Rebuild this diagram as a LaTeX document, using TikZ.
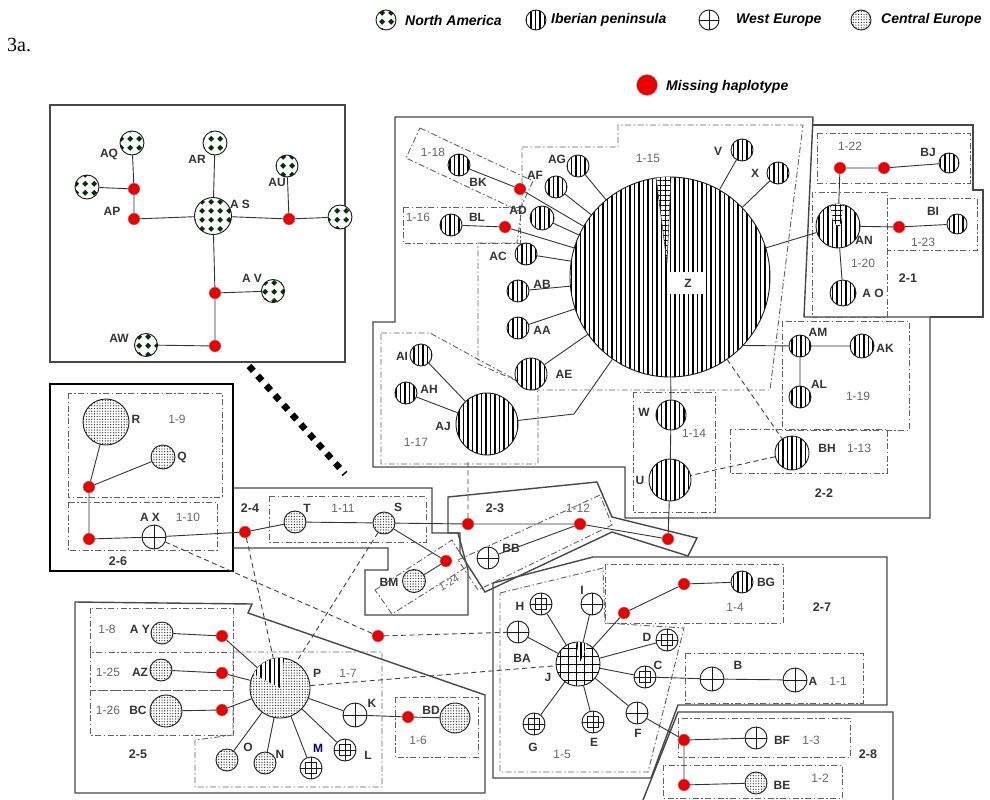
\documentclass[tikz,border=0pt]{standalone}
\usepackage{fontspec}
\setmainfont{Liberation Sans}
\newfontfamily\mytimes{Liberation Serif}
\usetikzlibrary{patterns,patterns.meta}
\pgfdeclarepatternformonly{nadiamonds}{\pgfpointorigin}{\pgfpoint{9pt}{9pt}}{\pgfpoint{9pt}{9pt}}{%
 \pgfpathmoveto{\pgfpoint{4.5pt}{1.3pt}}\pgfpathlineto{\pgfpoint{7.7pt}{4.5pt}}\pgfpathlineto{\pgfpoint{4.5pt}{7.7pt}}\pgfpathlineto{\pgfpoint{1.3pt}{4.5pt}}\pgfpathclose\pgfusepath{fill}}
\tikzset{
  con/.style={draw=black!80, line width=0.9pt},
  dcon/.style={draw=black!75, line width=0.9pt, dash pattern=on 5pt off 3.5pt},
  region/.style={draw=black!72, line width=1.4pt},
  grp/.style={draw=black!62, line width=0.9pt, dash pattern=on 6pt off 2.5pt on 1.5pt off 2.5pt},
  miss/.style={circle, fill=red!92!black, draw=black!35, line width=0.4pt, inner sep=0pt, minimum size=12pt},
  hap/.style={circle, draw=black!90, line width=0.9pt, inner sep=0pt, minimum size=#1, preaction={fill=white}},
  ib/.style={hap=#1, pattern={Lines[angle=90,distance=4.5pt,line width=1.8pt]}},
  ce/.style={hap=#1, pattern={Dots[radius=0.65pt,distance=2.7pt]}, pattern color=black!85},
  na/.style={hap=#1, pattern=nadiamonds, pattern color=black!80!green},
  wg/.style={hap=#1, pattern={Hatch[distance=8pt,line width=0.9pt]}},
  we/.style={hap=#1, path picture={\draw[black!90,line width=0.9pt] (path picture bounding box.north)--(path picture bounding box.south) (path picture bounding box.west)--(path picture bounding box.east);}},
  wesq/.style={hap=#1, path picture={\draw[black!90,line width=0.9pt] (path picture bounding box.north)--(path picture bounding box.south) (path picture bounding box.west)--(path picture bounding box.east); \draw[black!90,line width=0.9pt] ([shift={(-5.5pt,-5.5pt)}]path picture bounding box.center) rectangle ([shift={(5.5pt,5.5pt)}]path picture bounding box.center);}},
  lab/.style={font=\fontsize{12}{12}\selectfont\bfseries, text=black!80, inner sep=0pt},
  gl/.style={font=\fontsize{12}{12}\selectfont, text=black!60, inner sep=0pt},
  rl/.style={font=\fontsize{12.5}{12}\selectfont\bfseries, text=black!80, inner sep=0pt},
  legt/.style={font=\fontsize{14}{14}\selectfont\bfseries\itshape, inner sep=0pt, anchor=west}
}
\begin{document}
\begin{tikzpicture}[x=1pt,y=-1pt]
\useasboundingbox (0,0) rectangle (990,800);

% ---------- legend ----------
\node[na=20pt] (lgNA) at (386,20) {};
\node[legt] (lgNAt) at (405,20) {North America};
\node[ib=20pt] (lgIB) at (536,20) {};
\node[legt] (lgIBt) at (551,20) {Iberian peninsula};
\node[we=20pt] (lgWE) at (709,20) {};
\node[legt] (lgWEt) at (736,20) {West Europe};
\node[ce=20pt] (lgCE) at (861,20) {};
\node[legt] (lgCEt) at (881,20) {Central Europe};
\node[miss, minimum size=21pt] (lgMS) at (647,85) {};
\node[legt] (lgMSt) at (666,87) {Missing haplotype};
\node[inner sep=0pt, anchor=west, font=\mytimes\fontsize{20}{20}\selectfont] (title) at (7,45) {3a.};

% ---------- region outlines ----------
\draw[region] (50,105) rectangle (345,362);
\draw[draw=black, line width=2.6pt] (50,384) rectangle (233,571);
\draw[region] (233,488) -- (432,488) -- (432,533) -- (458,533) -- (468,570) -- (468,615) -- (365,615) -- (365,570) -- (388,570) -- (388,548) -- (233,548);
\draw[region] (448,497) -- (597,482) -- (612,517) -- (697,538) -- (688,556) -- (612,532) -- (485,592) -- (460,553) -- (460,533) -- (448,533) -- cycle;
\draw[region] (395,117) -- (813,117) -- (804,317) -- (930,317) -- (930,518) -- (625,518) -- (625,467) -- (373,467) -- (373,322) -- (395,322) -- cycle;
\draw[region] (812,125) -- (973,125) -- (973,190) -- (983,190) -- (983,317) -- (930,317);
\draw[region] (75,602) -- (252,604) -- (248,613) -- (485,695) -- (485,793) -- (75,793) -- cycle;
\draw[region] (493,583) -- (593,557) -- (887,557) -- (887,705) -- (678,705) -- (651,778) -- (493,778) -- cycle;
\draw[region] (643,800) -- (678,712) -- (893,712) -- (893,800);

% ---------- group boxes ----------
\draw[grp] (68,393) rectangle (222,497);
\draw[grp] (68,502) rectangle (217,550);
\draw[grp] (269,496) rectangle (426,542);
\draw[grp] (458,560) -- (600,495) -- (612,525) -- (478,590) -- cycle;
\draw[grp] (375,590) -- (452,540) -- (468,566) -- (392,614) -- cycle;
\draw[grp] (420,128) -- (533,181) -- (519,211) -- (406,158) -- cycle;
\draw[grp] (403,207) rectangle (520,243);
\draw[grp] (522,147) -- (618,147) -- (618,125) -- (803,125) -- (770,390) -- (538,390) -- (478,364) -- (478,243) -- (517,243) -- (522,207) -- cycle;
\draw[grp] (381,333) -- (430,333) -- (538,392) -- (538,464) -- (381,464) -- cycle;
\draw[grp] (633,392) rectangle (715,512);
\draw[grp] (730,429) rectangle (887,473);
\draw[grp] (782,321) rectangle (909,430);
\draw[grp] (817,133) rectangle (970,183);
\draw[grp] (812,192) rectangle (887,317);
\draw[grp] (887,198) rectangle (977,250);
\draw[grp] (90,608) rectangle (233,652);
\draw[grp] (90,652) rectangle (233,690);
\draw[grp] (90,690) rectangle (233,735);
\draw[grp] (233,652) -- (382,652) -- (382,787) -- (195,787) -- (195,740) -- (233,735) -- cycle;
\draw[grp] (395,697) rectangle (478,757);
\draw[grp] (605,564) rectangle (783,623);
\draw[grp] (685,653) rectangle (863,703);
\draw[grp] (500,593) -- (603,568) -- (605,623) -- (684,628) -- (648,772) -- (500,772) -- cycle;
\draw[grp] (678,718) rectangle (850,757);
\draw[grp] (663,765) rectangle (842,798);

% ---------- thick dotted link ----------
\coordinate (nad1) at (249,366);
\coordinate (nad2) at (345,474);
\draw[line width=6.5pt, dash pattern=on 6.5pt off 6.5pt] (nad1) -- (nad2);

% ---------- North America ----------
\node[na=24pt] (AQ) at (132,143) {};
\node[na=24pt] (NAx) at (87,187) {};
\node[miss] (m1) at (134,189) {};
\node[miss] (AP) at (134,219) {};
\node[na=37pt] (AS) at (213,216) {};
\node[na=24pt] (AR) at (215,143) {};
\node[na=22pt] (AU) at (287,166) {};
\node[miss] (m2) at (289,219) {};
\node[na=24pt] (NAy) at (340,217) {};
\node[miss] (m3) at (215,293) {};
\node[na=23pt] (AV) at (273,291) {};
\node[miss] (m4) at (215,346) {};
\node[na=23pt] (AW) at (146,345) {};

% ---------- 2-6 / 2-4 / 2-3 ----------
\node[ce=46pt] (R) at (106,422) {};
\node[ce=24pt] (Q) at (163,457) {};
\node[miss] (m5) at (89,487) {};
\node[miss] (m6) at (89,539) {};
\node[we=24pt] (AX) at (154,537) {};
\node[miss] (m7) at (245,532) {};
\node[ce=22pt] (T) at (295,522) {};
\node[ce=22pt] (S) at (384,523) {};
\node[miss] (m8) at (468,524) {};
\node[miss] (m9) at (580,524) {};
\node[miss] (m10) at (668,539) {};
\node[we=22pt] (BB) at (488,558) {};
\node[miss] (m11) at (446,561) {};
\node[ce=23pt] (BM) at (414,581) {};
\coordinate (up23) at (468,462);

% ---------- 2-2 ----------
\node[ib=200pt] (Z) at (670,277) {};
\node[ib=22pt] (BK) at (459,165) {};
\node[miss] (m12) at (520,189) {};
\node[ib=22pt] (AF) at (556,187) {};
\node[ib=22pt] (AG) at (578,166) {};
\node[ib=24pt] (AD) at (542,218) {};
\node[ib=22pt] (BL) at (451,225) {};
\node[miss] (m13) at (505,227) {};
\node[ib=22pt] (AC) at (526,254) {};
\node[ib=22pt] (AB) at (518,291) {};
\node[ib=22pt] (AA) at (518,328) {};
\node[ib=32pt] (AE) at (531,374) {};
\node[ib=22pt] (AI) at (421,355) {};
\node[ib=22pt] (AH) at (406,393) {};
\node[ib=62pt] (AJ) at (487,424) {};
\node[ib=22pt] (V) at (742,150) {};
\node[ib=22pt] (X) at (778,173) {};
\node[ib=22pt] (AM) at (800,346) {};
\node[ib=24pt] (AK) at (862,346) {};
\node[ib=22pt] (AL) at (800,397) {};
\node[ib=30pt] (W) at (671,415) {};
\node[ib=42pt] (U) at (670,480) {};
\node[ib=34pt] (BH) at (792,453) {};
\coordinate (bendAJ) at (574,414);

% ---------- 2-1 ----------
\node[miss] (m14) at (840,168) {};
\node[miss] (m15) at (884,168) {};
\node[ib=20pt] (BJ) at (949,163) {};
\node[ib=44pt] (AN) at (838,226) {};
\node[ib=26pt] (AO) at (843,293) {};
\node[miss] (m16) at (899,227) {};
\node[ib=20pt] (BI) at (957,224) {};

% ---------- 2-5 ----------
\node[ce=22pt] (AY) at (162,633) {};
\node[miss] (m17) at (222,636) {};
\node[ce=22pt] (AZ) at (161,670) {};
\node[miss] (m18) at (222,673) {};
\node[ce=32pt] (BC) at (166,711) {};
\node[miss] (m19) at (222,710) {};
\node[ce=60pt] (P) at (280,688) {};
\node[we=24pt] (K) at (355,715) {};
\node[wesq=22pt] (L) at (345,750) {};
\node[wesq=22pt] (M) at (311,768) {};
\node[ce=22pt] (N) at (265,763) {};
\node[ce=22pt] (O) at (227,760) {};
\node[miss] (m20) at (408,717) {};
\node[ce=30pt] (BD) at (455,718) {};
\node[miss] (m21) at (378,636) {};

% ---------- 2-7 / 2-8 ----------
\node[miss] (m22) at (684,584) {};
\node[ib=22pt] (BG) at (742,582) {};
\node[miss] (m23) at (624,613) {};
\node[wesq=22pt] (H) at (541,604) {};
\node[we=22pt] (I) at (592,604) {};
\node[we=22pt] (BA) at (518,632) {};
\node[wg=44pt] (J) at (578,664) {};
\node[wesq=22pt] (D) at (667,640) {};
\node[wesq=22pt] (C) at (645,677) {};
\node[we=24pt] (B) at (712,679) {};
\node[we=24pt] (A) at (795,680) {};
\node[we=22pt] (F) at (637,713) {};
\node[wesq=22pt] (E) at (593,722) {};
\node[wesq=22pt] (G) at (534,724) {};
\node[miss] (m24) at (684,740) {};
\node[miss] (m25) at (684,785) {};
\node[we=22pt] (BF) at (756,738) {};
\node[ce=22pt] (BE) at (756,783) {};

% ---------- wedges ----------
\begin{scope}
\clip (670,277) circle[radius=100];
\fill[white] (656,177) -- (671,177) -- (667,263) -- cycle;
\path[pattern={Hatch[distance=5pt,line width=0.7pt]}] (656,177) -- (671,177) -- (667,263) -- cycle;
\draw[black!80, line width=0.6pt] (656,177) -- (667,263) -- (671,177);
\end{scope}
\begin{scope}
\clip (280,688) circle[radius=30];
\fill[white] (280,688) -- (244.7,669.2) -- (261.8,652.4) -- (285.6,648.4) -- cycle;
\path[pattern={Lines[angle=90,distance=4.5pt,line width=1.8pt]}] (280,688) -- (244.7,669.2) -- (261.8,652.4) -- (285.6,648.4) -- cycle;
\end{scope}
\begin{scope}
\clip (578,664) circle[radius=22];
\fill[white] (580,662) -- (575,634) -- (591,637) -- cycle;
\path[pattern={Lines[angle=90,distance=3.5pt,line width=1.2pt]}] (580,662) -- (575,634) -- (591,637) -- cycle;
\end{scope}
\begin{scope}
\clip (838,226) circle[radius=22];
\fill[white] (830,204) -- (844,204) -- (840,228) -- (833,222) -- cycle;
\path[pattern={Hatch[distance=5pt,line width=0.7pt]}] (830,204) -- (844,204) -- (840,228) -- (833,222) -- cycle;
\end{scope}
\node[fill=white, inner sep=0pt, minimum width=36pt, minimum height=22pt, font=\fontsize{12}{12}\selectfont\bfseries, text=black!80] (lZ) at (688,283) {Z};

% ---------- solid connectors ----------
\draw[con] (AQ) -- (m1) (NAx) -- (m1) (m1) -- (AP) (AP) -- (AS) (AS) -- (AR) (AS) -- (m2) (m2) -- (AU) (m2) -- (NAy) (AS) -- (m3) (m3) -- (AV) (m3) -- (m4) (m4) -- (AW);
\draw[con] (R) -- (m5) (Q) -- (m5) (m5) -- (m6) (m6) -- (AX) (AX) -- (m7) (m7) -- (T) (T) -- (S) (S) -- (m8) (m8) -- (m9) (m9) -- (m10) (m10) -- (U) (m9) -- (BB) (S) -- (m11) (m11) -- (BM);
\draw[con] (U) -- (W) (W) -- (Z) (Z) -- (AE) (AJ) -- (bendAJ) -- (Z) (AJ) -- (AI) (AJ) -- (AH) (Z) -- (AA) (Z) -- (AB) (Z) -- (AC) (Z) -- (m13) (m13) -- (BL) (Z) -- (AD) (Z) -- (AF) (Z) -- (AG) (Z) -- (m12) (m12) -- (BK) (Z) -- (V) (Z) -- (X) (Z) -- (AN) (Z.-43) -- (AM) (AM) -- (AK) (AM) -- (AL);
\draw[con] (AN) -- (m14) (m14) -- (m15) (m15) -- (BJ) (AN) -- (m16) (m16) -- (BI) (AN) -- (AO);
\draw[con] (P) -- (m17) (m17) -- (AY) (P) -- (m18) (m18) -- (AZ) (P) -- (m19) (m19) -- (BC) (P) -- (O) (P) -- (N) (P) -- (M) (P) -- (L) (P) -- (K) (K) -- (m20) (m20) -- (BD);
\draw[con] (J) -- (H) (J) -- (I) (J) -- (BA) (J) -- (m23) (m23) -- (m22) (m22) -- (BG) (J) -- (D) (J) -- (C) (C) -- (B) (B) -- (A) (J) -- (F) (J) -- (E) (J) -- (G) (F) -- (m24) (m24) -- (BF) (m24) -- (m25) (m25) -- (BE);

% ---------- dashed connectors ----------
\draw[dcon] (Z) -- (BH) (BH) -- (U) (AX) -- (m21) (m21) -- (BA) (m7) -- (P) (S) -- (P) (P) -- (J) (m8) -- (up23);

% ---------- labels ----------
\node[lab] (tAQ) at (109,154) {AQ};
\node[lab] (tAP) at (112,211) {AP};
\node[lab] (tAS) at (240,204) {A S};
\node[lab] (tAR) at (197,159) {AR};
\node[lab] (tAU) at (277,182) {AU};
\node[lab] (tAV) at (252,278) {A V};
\node[lab] (tAW) at (119,338) {AW};

\node[lab] (tR) at (136,419) {R};
\node[gl] (g19) at (177,419) {1-9};
\node[lab] (tQ) at (182,457) {Q};
\node[lab] (tAX) at (150,517) {A X};
\node[gl] (g110) at (188,517) {1-10};
\node[rl] (r26) at (118,561) {2-6};
\node[rl] (r24) at (250,508) {2-4};
\node[lab] (tT) at (307,508) {T};
\node[gl] (g111) at (343,508) {1-11};
\node[lab] (tS) at (398,507) {S};
\node[lab] (tBB) at (511,548) {BB};
\node[lab] (tBM) at (389,582) {BM};
\node[gl, rotate=30, font=\fontsize{10.5}{10}\selectfont] (g124) at (449,583) {1-24};
\node[rl] (r23) at (495,508) {2-3};
\node[gl] (g112) at (578,508) {1-12};

\node[lab] (tBK) at (478,182) {BK};
\node[gl] (g118) at (433,152) {1-18};
\node[lab] (tAF) at (535,175) {AF};
\node[lab] (tAG) at (557,159) {AG};
\node[lab] (tAD) at (518,210) {AD};
\node[lab] (tBL) at (477,217) {BL};
\node[gl] (g116) at (418,217) {1-16};
\node[lab] (tAC) at (498,256) {AC};
\node[lab] (tAB) at (542,284) {AB};
\node[lab] (tAA) at (542,330) {AA};
\node[lab] (tAE) at (564,374) {AE};
\node[lab] (tAI) at (402,356) {AI};
\node[lab] (tAH) at (429,389) {AH};
\node[lab] (tAJ) at (443,426) {AJ};
\node[gl] (g117) at (416,442) {1-17};
\node[lab] (tV) at (718,151) {V};
\node[lab] (tX) at (755,173) {X};
\node[gl] (g115) at (648,158) {1-15};
\node[lab] (tAM) at (818,332) {AM};
\node[lab] (tAK) at (885,348) {AK};
\node[lab] (tAL) at (819,384) {AL};
\node[gl] (g119) at (858,396) {1-19};
\node[lab] (tW) at (644,412) {W};
\node[gl] (g114) at (694,433) {1-14};
\node[lab] (tU) at (640,480) {U};
\node[lab] (tBH) at (827,448) {BH};
\node[gl] (g113) at (859,448) {1-13};
\node[rl] (r22) at (824,493) {2-2};

\node[gl] (g122) at (850,146) {1-22};
\node[lab] (tBJ) at (928,152) {BJ};
\node[lab] (tAN) at (864,240) {AN};
\node[gl] (g120) at (863,263) {1-20};
\node[lab] (tAO) at (873,293) {A O};
\node[lab] (tBI) at (933,211) {BI};
\node[gl] (g123) at (923,242) {1-23};
\node[rl] (r21) at (908,278) {2-1};

\node[gl] (g18) at (107,629) {1-8};
\node[lab] (tAY) at (140,629) {A Y};
\node[gl] (g125) at (108,672) {1-25};
\node[lab] (tAZ) at (140,672) {AZ};
\node[gl] (g126) at (108,710) {1-26};
\node[lab] (tBC) at (138,710) {BC};
\node[rl] (r25) at (138,754) {2-5};
\node[lab] (tP) at (317,673) {P};
\node[gl] (g17) at (348,673) {1-7};
\node[lab] (tK) at (372,703) {K};
\node[lab] (tL) at (368,755) {L};
\node[lab, text=blue!50!black] (tM) at (318,748) {M};
\node[lab] (tN) at (280,754) {N};
\node[lab] (tO) at (248,747) {O};
\node[lab] (tBD) at (431,710) {BD};
\node[gl] (g16) at (418,740) {1-6};

\node[lab] (tBG) at (766,582) {BG};
\node[gl] (g14) at (735,607) {1-4};
\node[rl] (r27) at (822,607) {2-7};
\node[lab] (tH) at (520,606) {H};
\node[lab] (tI) at (582,590) {I};
\node[lab] (tBA) at (522,658) {BA};
\node[lab] (tJ) at (548,677) {J};
\node[lab] (tD) at (647,637) {D};
\node[lab] (tC) at (658,665) {C};
\node[lab] (tB) at (738,665) {B};
\node[lab] (tA) at (813,681) {A};
\node[gl] (g11) at (838,681) {1-1};
\node[lab] (tF) at (638,733) {F};
\node[lab] (tE) at (594,742) {E};
\node[lab] (tG) at (533,747) {G};
\node[gl] (g15) at (562,754) {1-5};
\node[lab] (tBF) at (782,740) {BF};
\node[gl] (g13) at (811,740) {1-3};
\node[lab] (tBE) at (782,785) {BE};
\node[gl] (g12) at (820,778) {1-2};
\node[rl] (r28) at (868,754) {2-8};
\end{tikzpicture}
\end{document}
